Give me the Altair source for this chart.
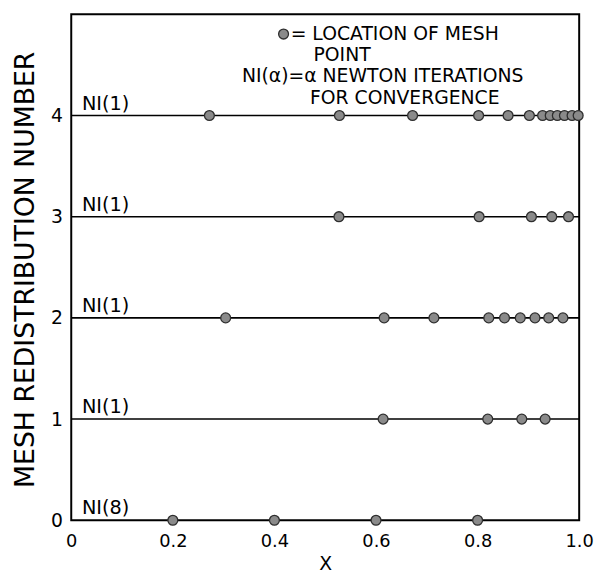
import altair as alt
import pandas as pd

# Mesh point locations per redistribution number
row0 = [0.200, 0.400, 0.600, 0.800]
row1 = [0.614, 0.820, 0.887, 0.933]
row2 = [0.304, 0.616, 0.714, 0.822, 0.853, 0.884, 0.913, 0.940, 0.968]
row3 = [0.527, 0.803, 0.906, 0.946, 0.979]
row4 = [0.272, 0.528, 0.672, 0.802, 0.860, 0.902, 0.928, 0.943, 0.957, 0.971, 0.986, 0.998]
rows = [0, 1, 2, 3, 4]
iterations = [8, 1, 1, 1, 1]
x_ticks = [0, 0.2, 0.4, 0.6, 0.8, 1.0]
y_ticks = [0, 1, 2, 3, 4]

legend_lines = ["= LOCATION OF MESH", "POINT", "NI(α)=α NEWTON ITERATIONS", "FOR CONVERGENCE"]
legend_x = [0.432, 0.477, 0.336, 0.470]
legend_y = [4.805, 4.595, 4.385, 4.170]
legend_marker_x = [0.418]
legend_marker_y = [4.805]

all_rows = [row0, row1, row2, row3, row4]
pts = pd.DataFrame(
    [{"x": v, "y": r} for r, vals in zip(rows, all_rows) for v in vals]
)
lines = pd.DataFrame({"y": rows[1:], "x": [0] * 4, "x2": [1] * 4})
labels = pd.DataFrame(
    {"y": rows, "x": [0.021] * 5, "text": [f"NI({n})" for n in iterations]}
)
legend_df = pd.DataFrame({"x": legend_x, "y": legend_y, "text": legend_lines})
marker_df = pd.DataFrame({"x": legend_marker_x, "y": legend_marker_y})

FONT = "DejaVu Sans"

xs = alt.Scale(domain=[0, 1], nice=False, zero=False)
ys = alt.Scale(domain=[0, 5], nice=False, zero=False)

x_enc = alt.X(
    "x:Q",
    scale=xs,
    axis=alt.Axis(
        title="X",
        values=x_ticks,
        labelExpr="datum.value == 0 ? '0' : format(datum.value, '.1f')",
        grid=False,
        domain=False,
        ticks=False,
        labelPadding=13,
        labelFontSize=18,
        labelFont=FONT,
        labelColor="black",
        labelFlush=False,
        titleFont=FONT,
        titleFontSize=19,
        titleFontWeight="normal",
        titleColor="black",
        titleY=44,
        titleBaseline="middle",
    ),
)
y_enc = alt.Y(
    "y:Q",
    scale=ys,
    axis=alt.Axis(
        title="MESH REDISTRIBUTION NUMBER",
        values=y_ticks,
        format="d",
        grid=False,
        domain=False,
        ticks=False,
        labelPadding=9,
        labelFontSize=19,
        labelFont=FONT,
        labelColor="black",
        labelFlush=False,
        titleFont=FONT,
        titleFontSize=27,
        titleFontWeight="normal",
        titleColor="black",
        titleX=-46,
        titleY=258,
        titleAngle=-90,
        titleAlign="center",
        titleBaseline="middle",
    ),
)

rules = alt.Chart(lines).mark_rule(color="black", strokeWidth=1.6).encode(
    x=alt.X("x:Q", scale=xs), x2="x2:Q", y=alt.Y("y:Q", scale=ys)
)
points = alt.Chart(pts).mark_point(
    shape="circle", filled=True, size=100, fill="#8a8a8a", stroke="#2e2e2e",
    strokeWidth=1.3, opacity=1
).encode(x=x_enc, y=y_enc)
ni_text = alt.Chart(labels).mark_text(
    align="left", baseline="alphabetic", dy=-6, font=FONT, fontSize=19.5, color="black"
).encode(x=alt.X("x:Q", scale=xs), y=alt.Y("y:Q", scale=ys), text="text:N")
leg_text = alt.Chart(legend_df).mark_text(
    align="left", baseline="middle", font=FONT, fontSize=19, color="black"
).encode(x=alt.X("x:Q", scale=xs), y=alt.Y("y:Q", scale=ys), text="text:N")
leg_marker = alt.Chart(marker_df).mark_point(
    shape="circle", filled=True, size=100, fill="#8a8a8a", stroke="#2e2e2e",
    strokeWidth=1.3, opacity=1
).encode(x=alt.X("x:Q", scale=xs), y=alt.Y("y:Q", scale=ys))

chart = (
    alt.layer(rules, points, ni_text, leg_text, leg_marker)
    .properties(
        width=514,
        height=512,
        padding={"left": 64, "top": 3, "right": 15, "bottom": 53},
        autosize=alt.AutoSizeParams(type="none"),
        background="white",
    )
    .configure_view(stroke="black", strokeWidth=2)
)

chart.save("out.html", embed_options={"renderer": "svg", "actions": False})
